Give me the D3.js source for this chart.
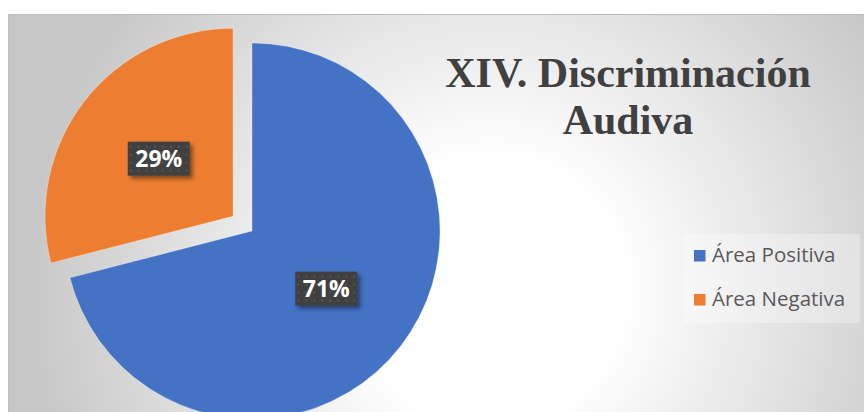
<!DOCTYPE html>
<html>
<head>
<meta charset="utf-8">
<script src="https://cdn.jsdelivr.net/npm/d3@7"></script>
<style>
  body { margin: 0; background: #fff; }
  svg { display: block; }
</style>
</head>
<body>
<div id="svgContainer"></div>
<script>
const categories = ['Área Positiva', 'Área Negativa']
const values = [71, 29]
const colors = ['#4472C4', '#ED7D31']
const titleLines = ['XIV. Discriminación', 'Audiva']

const width = 864,
  height = 412

const svg = d3.select('#svgContainer')
              .append('svg')
              .attr('width', width)
              .attr('height', height)

const defs = svg.append('defs')

const bg = defs.append('radialGradient')
               .attr('id', 'bgGrad')
               .attr('gradientUnits', 'userSpaceOnUse')
               .attr('cx', 490)
               .attr('cy', 290)
               .attr('r', 470)
bg.append('stop').attr('offset', '0').attr('stop-color', '#ffffff')
bg.append('stop').attr('offset', '0.28').attr('stop-color', '#ffffff')
bg.append('stop').attr('offset', '1').attr('stop-color', '#c6c6c6')

// dotted dark fill of the data labels
const dots = defs.append('pattern')
                 .attr('id', 'dots')
                 .attr('patternUnits', 'userSpaceOnUse')
                 .attr('width', 8)
                 .attr('height', 8)
dots.append('rect').attr('width', 8).attr('height', 8).attr('fill', '#3f3f3f')
dots.append('rect').attr('x', 3).attr('y', 3).attr('width', 2).attr('height', 2).attr('fill', '#575757')

const shadow = defs.append('filter')
                   .attr('id', 'shadow')
                   .attr('x', '-30%').attr('y', '-30%')
                   .attr('width', '160%').attr('height', '160%')
shadow.append('feDropShadow')
      .attr('dx', 3)
      .attr('dy', 3)
      .attr('stdDeviation', 2)
      .attr('flood-color', '#000')
      .attr('flood-opacity', 0.45)

// chart plate
svg.append('rect')
   .attr('x', 8.5)
   .attr('y', 14.5)
   .attr('width', width)
   .attr('height', height)
   .attr('fill', 'url(#bgGrad)')
   .attr('stroke', '#bdbdbd')

const cx = 252,
  cy = 231,
  radius = 188,
  explode = 24

const pie = d3.pie().sort(null).value((d) => d)
const arcs = pie(values)

const arc = d3.arc().innerRadius(0).outerRadius(radius)
const labelArc = d3.arc().innerRadius(0).outerRadius(radius)

const offset = (d, i) => {
  if (i === 0) return [0, 0]
  const a = (d.startAngle + d.endAngle) / 2
  return [Math.sin(a) * explode, -Math.cos(a) * explode]
}

const slices = svg.append('g')
                  .attr('transform', 'translate(' + cx + ',' + cy + ')')

slices.selectAll('path')
      .data(arcs)
      .enter()
      .append('path')
      .attr('d', arc)
      .attr('transform', (d, i) => 'translate(' + offset(d, i) + ')')
      .attr('fill', (d, i) => colors[i])
      .attr('stroke', '#ffffff')
      .attr('stroke-opacity', 0.4)
      .attr('stroke-width', 0.8)

const labels = slices.selectAll('.lbl')
                     .data(arcs)
                     .enter()
                     .append('g')
                     .attr('class', 'lbl')
                     .attr('transform', (d, i) => {
                       const c = labelArc.centroid(d)
                       const o = offset(d, i)
                       return 'translate(' + (c[0] + o[0]) + ',' + (c[1] + o[1]) + ')'
                     })

labels.append('rect')
      .attr('x', -31)
      .attr('y', -17)
      .attr('width', 62)
      .attr('height', 34)
      .attr('fill', 'url(#dots)')
      .attr('filter', 'url(#shadow)')

labels.append('text')
      .text((d) => d.data + '%')
      .attr('text-anchor', 'middle')
      .attr('y', 8)
      .attr('fill', '#ffffff')
      .attr('font-family', 'Open Sans, sans-serif')
      .attr('font-weight', 'bold')
      .attr('font-size', '23px')

// title
svg.append('text')
   .attr('text-anchor', 'middle')
   .attr('font-family', 'Liberation Serif, Times New Roman, serif')
   .attr('font-weight', 'bold')
   .attr('font-size', '42px')
   .attr('fill', '#404040')
   .selectAll('tspan')
   .data(titleLines)
   .enter()
   .append('tspan')
   .attr('x', 628)
   .attr('y', (d, i) => 87 + i * 47)
   .text((d) => d)

// legend
const legend = svg.append('g')
                  .attr('class', 'legend')

legend.append('rect')
      .attr('x', 684)
      .attr('y', 234)
      .attr('width', 176)
      .attr('height', 89)
      .attr('fill', '#ffffff')
      .attr('fill-opacity', 0.3)

const items = legend.selectAll('.item')
                    .data(categories)
                    .enter()
                    .append('g')
                    .attr('class', 'item')
                    .attr('transform', (d, i) => 'translate(694,' + (250 + i * 44) + ')')

items.append('rect')
     .attr('width', 11.5)
     .attr('height', 11.5)
     .attr('fill', (d, i) => colors[i])

items.append('text')
     .text((d) => d)
     .attr('x', 18)
     .attr('y', 12)
     .attr('fill', '#595959')
     .attr('font-family', 'Open Sans, sans-serif')
     .attr('font-size', '20.5px')
</script>
</body>
</html>
